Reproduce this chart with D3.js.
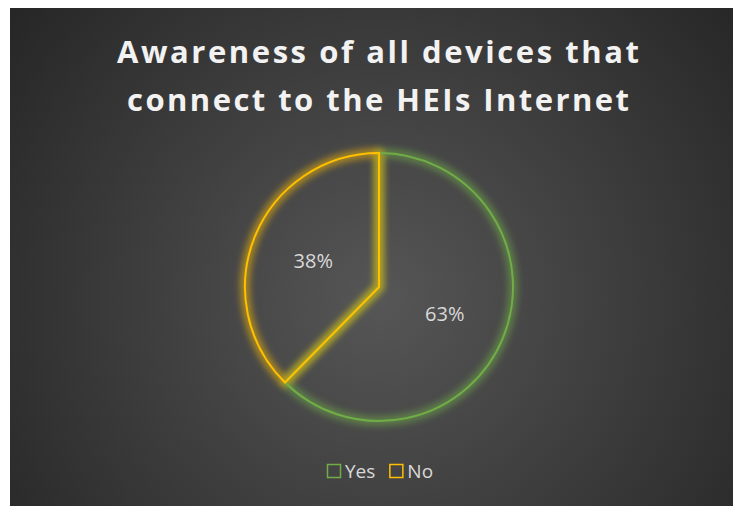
<!DOCTYPE html>
<html>
<head>
<meta charset="utf-8">
<script src="https://cdn.jsdelivr.net/npm/d3@7"></script>
<style>
  html, body { margin: 0; padding: 0; background: #ffffff; }
  svg { display: block; }
</style>
</head>
<body>
<script>
// Survey result: awareness of devices on the institution's network
const categories = ["Yes", "No"];
const values = [63, 38];
const colors = ["#70ad47", "#ffc000"];
const titleLines = ["Awareness of all devices that", "connect to the HEIs Internet"];

const W = 735, H = 506;
const svg = d3.select("body").append("svg").attr("width", W).attr("height", H);
const defs = svg.append("defs");

// Background gradient for the chart area
const bg = defs.append("radialGradient").attr("id", "bg")
  .attr("gradientUnits", "userSpaceOnUse")
  .attr("cx", 380).attr("cy", 300).attr("r", 470);
bg.append("stop").attr("offset", 0).attr("stop-color", "#565656");
bg.append("stop").attr("offset", 1).attr("stop-color", "#262626");

// Soft glow around slice outlines
const glow = defs.append("filter").attr("id", "glow")
  .attr("x", "-20%").attr("y", "-20%").attr("width", "140%").attr("height", "140%");
glow.append("feGaussianBlur").attr("stdDeviation", 3.2);

const area = { x: 10, y: 8, w: W - 12, h: H - 8 };
svg.append("rect")
  .attr("x", area.x).attr("y", area.y)
  .attr("width", area.w).attr("height", area.h)
  .attr("fill", "url(#bg)");

// Title
const title = svg.append("g");
const titleWidths = [522, 502];
titleLines.forEach((t, i) => {
  title.append("text")
    .attr("x", 378).attr("y", 63 + i * 48)
    .attr("text-anchor", "middle")
    .attr("font-family", "'Open Sans', sans-serif")
    .attr("font-weight", 700)
    .attr("font-size", 31)
    .attr("fill", "#f2f2f2")
    .attr("textLength", titleWidths[i])
    .attr("lengthAdjust", "spacing")
    .text(t);
});

// Pie
const cx = 379, cy = 287, r = 134;
const pie = d3.pie().sort(null).value(d => d)(values);
const arc = d3.arc().innerRadius(0).outerRadius(r);
const g = svg.append("g").attr("transform", `translate(${cx},${cy})`);
const color = d3.scaleOrdinal().domain(categories).range(colors);

pie.forEach((d, i) => {
  g.append("path").attr("d", arc(d))
    .attr("fill", "none")
    .attr("stroke", color(categories[i]))
    .attr("stroke-opacity", 0.5)
    .attr("stroke-width", 10)
    .attr("stroke-linejoin", "round")
    .attr("filter", "url(#glow)");
});
pie.forEach((d, i) => {
  g.append("path").attr("d", arc(d))
    .attr("fill", "none")
    .attr("stroke", color(categories[i]))
    .attr("stroke-width", 2)
    .attr("stroke-linejoin", "miter");
});

// Percentage labels
const labelArc = d3.arc().innerRadius(r * 0.53).outerRadius(r * 0.53);
pie.forEach((d, i) => {
  const [lx, ly] = labelArc.centroid(d);
  g.append("text")
    .attr("x", lx).attr("y", ly)
    .attr("text-anchor", "middle")
    .attr("dominant-baseline", "central")
    .attr("font-family", "'Open Sans', sans-serif")
    .attr("font-size", 20)
    .attr("fill", "#d9d9d9")
    .text(d.value + "%");
});

// Legend
const legend = svg.append("g").attr("transform", "translate(327,464)");
let lxPos = 0;
categories.forEach((c, i) => {
  const item = legend.append("g").attr("transform", `translate(${lxPos},0)`);
  item.append("rect").attr("x", 0.5).attr("y", 0.5).attr("width", 13).attr("height", 13)
    .attr("fill", "none").attr("stroke", color(c)).attr("stroke-width", 1.5);
  const t = item.append("text").attr("x", 18).attr("y", 14)
    .attr("font-family", "'Open Sans', sans-serif")
    .attr("font-size", 19)
    .attr("fill", "#d9d9d9")
    .text(c);
  lxPos += 18 + t.node().getComputedTextLength() + 14;
});
</script>
</body>
</html>
